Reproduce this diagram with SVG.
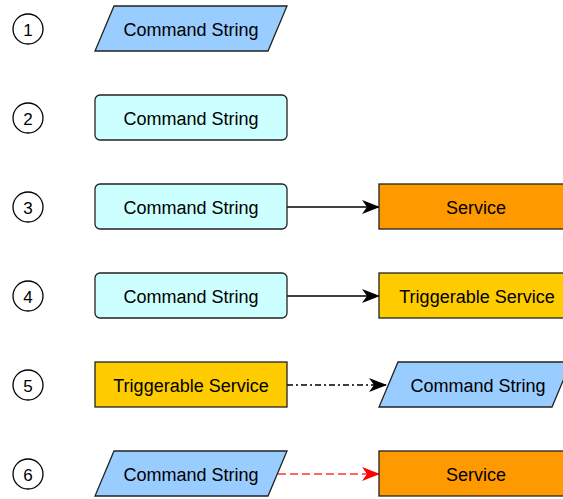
<svg xmlns="http://www.w3.org/2000/svg" width="563" height="499" viewBox="0 0 563 499">
<style>
text{font-family:"Liberation Sans",Arial,sans-serif;font-size:18px;fill:#000;text-anchor:middle;dominant-baseline:central}
.num{font-size:17px}
.circ{fill:#fff;stroke:#000;stroke-width:1.3}
.cmd{fill:#99CCFF;stroke:#222;stroke-width:1.3}
.str{fill:#CCFFFF;stroke:#222;stroke-width:1.3}
.svc{fill:#FF9900;stroke:#222;stroke-width:1.3}
.trg{fill:#FFCC00;stroke:#222;stroke-width:1.3}
.edge{fill:none;stroke-width:1.3}
</style>
<defs>
<marker id="ab" viewBox="0 0 18 14" refX="17" refY="7" markerWidth="18" markerHeight="14" markerUnits="userSpaceOnUse" orient="auto"><path d="M0,0 L18,7 L0,14 L5,7 Z" fill="#000"/></marker>
<marker id="ar" viewBox="0 0 18 14" refX="17" refY="7" markerWidth="18" markerHeight="14" markerUnits="userSpaceOnUse" orient="auto"><path d="M0,0 L18,7 L0,14 L5,7 Z" fill="#FF0000"/></marker>
</defs>
<rect width="563" height="499" fill="#fff"/>
<g id="labels">
<g id="n1"><circle class="circ" cx="28" cy="29" r="15"/><text class="num" x="28" y="30">1</text></g>
<g id="n2"><circle class="circ" cx="28" cy="118" r="15"/><text class="num" x="28" y="119">2</text></g>
<g id="n3"><circle class="circ" cx="28" cy="207" r="15"/><text class="num" x="28" y="208">3</text></g>
<g id="n4"><circle class="circ" cx="28" cy="296" r="15"/><text class="num" x="28" y="297">4</text></g>
<g id="n5"><circle class="circ" cx="28" cy="385" r="15"/><text class="num" x="28" y="386">5</text></g>
<g id="n6"><circle class="circ" cx="28" cy="474" r="15"/><text class="num" x="28" y="475">6</text></g>
</g>
<g id="connectors">
<path class="edge" stroke="#000" d="M287,207 H379" marker-end="url(#ab)"/>
<path class="edge" stroke="#000" d="M287,296 H379" marker-end="url(#ab)"/>
<path class="edge" stroke="#000" stroke-dasharray="6,3,2,3" d="M287,385 H386" marker-end="url(#ab)"/>
<path class="edge" stroke="#FF3333" stroke-dasharray="8,4" d="M278,474 H379" marker-end="url(#ar)"/>
</g>
<g id="row1"><polygon class="cmd" points="114,6 287,6 268,51 95,51"/><text x="191" y="30">Command String</text></g>
<g id="row2"><rect class="str" x="95" y="95" width="192" height="45" rx="5"/><text x="191" y="119">Command String</text></g>
<g id="row3a"><rect class="str" x="95" y="184" width="192" height="45" rx="5"/><text x="191" y="208">Command String</text></g>
<g id="row3b"><rect class="svc" x="379" y="184" width="194" height="45"/><text x="476" y="208">Service</text></g>
<g id="row4a"><rect class="str" x="95" y="273" width="192" height="45" rx="5"/><text x="191" y="297">Command String</text></g>
<g id="row4b"><rect class="trg" x="379" y="273" width="194" height="45"/><text x="477" y="297">Triggerable Service</text></g>
<g id="row5a"><rect class="trg" x="95" y="362" width="192" height="45"/><text x="191" y="386">Triggerable Service</text></g>
<g id="row5b"><polygon class="cmd" points="398,362 571,362 552,407 379,407"/><text x="478" y="386">Command String</text></g>
<g id="row6a"><polygon class="cmd" points="114,451 287,451 268,496 95,496"/><text x="191" y="475">Command String</text></g>
<g id="row6b"><rect class="svc" x="379" y="451" width="194" height="45"/><text x="476" y="475">Service</text></g>
</svg>
